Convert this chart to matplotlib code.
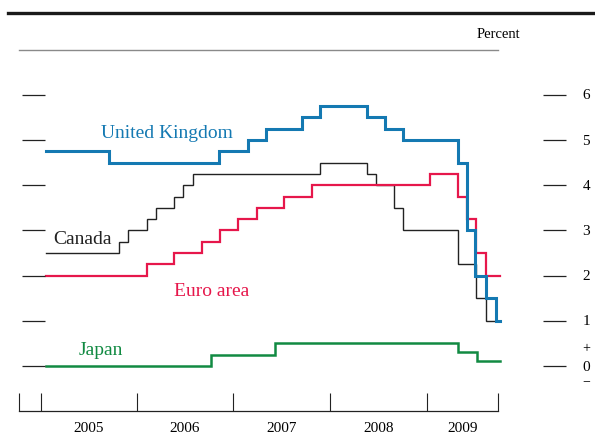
import matplotlib
matplotlib.use("Agg")
import matplotlib.pyplot as plt
from matplotlib.lines import Line2D

plt.rcParams['font.family'] = ['Liberation Serif', 'DejaVu Serif']

# Policy rates, step series: (date as decimal year, rate in percent from that date)
uk_dates = [2005.00, 2005.578, 2006.580, 2006.842, 2007.006, 2007.335, 2007.502,
            2007.929, 2008.096, 2008.263, 2008.763, 2008.849, 2008.918, 2009.016,
            2009.108]
uk_rates = [4.75, 4.5, 4.75, 5.0, 5.25, 5.5, 5.75, 5.5, 5.25, 5.0, 4.5, 3.0, 2.0,
            1.5, 1.0]

canada_dates = [2005.00, 2005.669, 2005.752, 2005.920, 2006.005, 2006.169, 2006.254,
                2006.340, 2007.505, 2007.929, 2008.014, 2008.178, 2008.263,
                2008.765, 2008.924, 2009.016]
canada_rates = [2.5, 2.75, 3.0, 3.25, 3.5, 3.75, 4.0, 4.25, 4.5, 4.25, 4.0, 3.5, 3.0,
                2.25, 1.5, 1.0]

euro_dates = [2005.00, 2005.920, 2006.169, 2006.425, 2006.589, 2006.756, 2006.927,
              2007.174, 2007.429, 2008.507, 2008.763, 2008.847, 2008.927, 2009.018]
euro_rates = [2.0, 2.25, 2.5, 2.75, 3.0, 3.25, 3.5, 3.75, 4.0, 4.25, 3.75, 3.25, 2.5,
              2.0]

japan_dates = [2005.00, 2006.507, 2007.094, 2008.765, 2008.933]
japan_rates = [0.0, 0.25, 0.5, 0.3, 0.1]

series_end = 2009.15

# Date axis: boundary marks and the year names placed between them
x_bounds = [2004.753, 2004.954, 2005.831, 2006.708, 2007.594, 2008.479, 2009.128]
year_labels = ['2005', '2006', '2007', '2008', '2009']
y_values = [0, 1, 2, 3, 4, 5, 6]

C_UK = '#1479b2'
C_CA = '#222222'
C_EU = '#e6174b'
C_JP = '#118a42'

W, H = 595, 439
fig = plt.figure(figsize=(W / 100, H / 100), dpi=100)
ax = fig.add_axes([19 / W, (H - 412.2) / H, 479 / W, (412.2 - 50.7) / H])
ax.set_xlim(x_bounds[0], x_bounds[-1])
ax.set_ylim(-1, 7)


def step_line(dates, rates, color, lw):
    xs = list(dates) + [series_end]
    ys = list(rates) + [rates[-1]]
    ax.step(xs, ys, where='post', color=color, lw=lw, clip_on=False,
            solid_joinstyle='miter')


step_line(japan_dates, japan_rates, C_JP, 1.8)
step_line(canada_dates, canada_rates, C_CA, 1.0)
step_line(euro_dates, euro_rates, C_EU, 1.6)
step_line(uk_dates, uk_rates, C_UK, 2.2)

# Series names
ax.text(2005.502, 5.07, 'United Kingdom', color=C_UK, fontsize=14, va='baseline')
ax.text(2005.067, 2.72, 'Canada', color=C_CA, fontsize=14, va='baseline')
ax.text(2006.169, 1.58, 'Euro area', color=C_EU, fontsize=14, va='baseline')
ax.text(2005.301, 0.27, 'Japan', color=C_JP, fontsize=14, va='baseline')

# Frame
for side in ['left', 'right']:
    ax.spines[side].set_visible(False)
ax.spines['top'].set_color('#8a8a8a')
ax.spines['top'].set_linewidth(1.0)
ax.spines['bottom'].set_color('#222222')
ax.spines['bottom'].set_linewidth(0.9)

ax.set_yticks([])
ax.set_xticks(x_bounds)
ax.set_xticklabels([])
ax.tick_params(axis='x', which='major', direction='in', length=13, width=0.8,
               color='#222222', top=False)
mids = [(x_bounds[i] + x_bounds[i + 1]) / 2 for i in range(1, len(x_bounds) - 1)]
ax.set_xticks(mids, minor=True)
ax.set_xticklabels(year_labels, minor=True, fontsize=11)
ax.tick_params(axis='x', which='minor', length=0, pad=7)

# Value marks on both sides, labels on the right
yt = ax.get_yaxis_transform()
ax.hlines(y_values, 0.006, 0.054, transform=yt, color='#222222', lw=0.9, clip_on=False)
ax.hlines(y_values, 1.094, 1.142, transform=yt, color='#222222', lw=0.9, clip_on=False)
for v in y_values:
    ax.text(1.184, v, str(v), transform=yt, ha='center', va='center', fontsize=11)
ax.text(1.184, 0.4, '+', transform=yt, ha='center', va='center', fontsize=10)
ax.text(1.184, -0.33, '\u2212', transform=yt, ha='center', va='center', fontsize=10)

fig.text(520 / W, 1 - 34 / H, 'Percent', ha='right', va='center', fontsize=10.5)
fig.add_artist(Line2D([8 / W, 1.0], [1 - 14 / H, 1 - 14 / H], color='#1a1a1a', lw=2.4))

fig.savefig('out.png', dpi=100)
